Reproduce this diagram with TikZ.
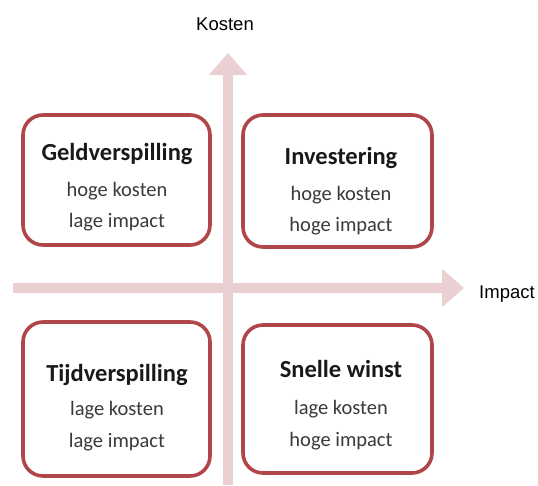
\documentclass[tikz,border=0pt]{standalone}
\usepackage{fontspec}
\setmainfont{Carlito}
\newfontfamily\axisfont{Liberation Sans}
\usetikzlibrary{arrows.meta}
\definecolor{boxred}{HTML}{B0464A}
\definecolor{axispink}{HTML}{EBD0D3}
\definecolor{subgray}{HTML}{3A3A3A}
\tikzset{
  quad/.style={draw=boxred, line width=3.6pt, rounded corners=20pt, fill=white, inner sep=0pt},
  axisline/.style={draw=axispink, line width=10pt, -{Triangle[length=22pt,width=37pt]}},
  ttl/.style={anchor=base, font=\fontsize{24.5}{26}\selectfont\bfseries, text=black!90},
  sub/.style={anchor=base, font=\fontsize{20.5}{22}\selectfont, text=subgray},
  axislabel/.style={font=\axisfont\fontsize{18.5}{20}\selectfont, text=black}
}
\begin{document}
\begin{tikzpicture}[x=1pt,y=-1pt]
\useasboundingbox[fill=white] (0,0) rectangle (538,485);
% axes
\coordinate (vbot) at (228,485);
\coordinate (vtop) at (228,53);
\coordinate (hleft) at (13,288);
\coordinate (hright) at (464,288);
\draw[axisline] (vbot) -- (vtop);
\draw[axisline] (hleft) -- (hright);
\node[axislabel] (kosten) at (225,24) {Kosten};
\node[axislabel] (impact) at (507,294) {Impact};
% boxes
\node[quad, minimum width=187pt, minimum height=130pt] (tl) at (116.5,180) {};
\node[quad, minimum width=189pt, minimum height=132pt] (tr) at (337.5,181) {};
\node[quad, minimum width=187pt, minimum height=154pt] (bl) at (116.5,399) {};
\node[quad, minimum width=189pt, minimum height=148pt] (br) at (337.5,399) {};
% texts
\node[ttl] (t1) at (117,160) {Geldverspilling};
\node[sub] (t1a) at (117,196) {hoge kosten};
\node[sub] (t1b) at (117,227) {lage impact};
\node[ttl] (t2) at (341,164) {Investering};
\node[sub] (t2a) at (341,200) {hoge kosten};
\node[sub] (t2b) at (341,231) {hoge impact};
\node[ttl] (t3) at (117,381) {Tijdverspilling};
\node[sub] (t3a) at (117,415) {lage kosten};
\node[sub] (t3b) at (117,447) {lage impact};
\node[ttl] (t4) at (341,377) {Snelle winst};
\node[sub] (t4a) at (341,414) {lage kosten};
\node[sub] (t4b) at (341,446) {hoge impact};
\end{tikzpicture}
\end{document}
